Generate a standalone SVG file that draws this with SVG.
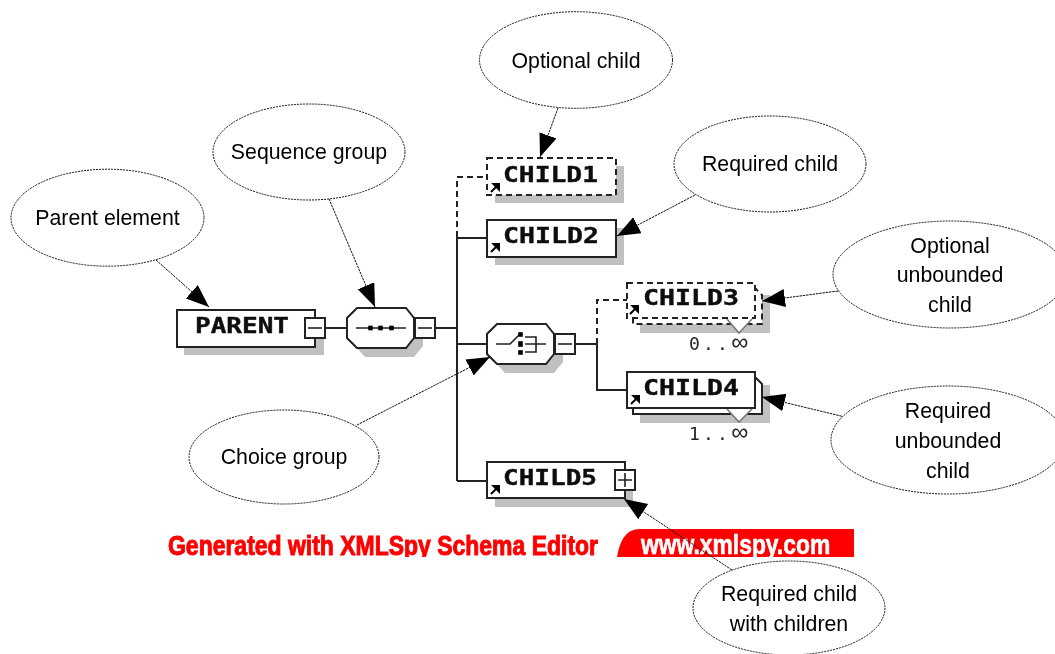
<svg xmlns="http://www.w3.org/2000/svg" width="1055" height="654" viewBox="0 0 1055 654">
<defs>
<marker id="ah" markerUnits="userSpaceOnUse" markerWidth="25" markerHeight="20" refX="23" refY="9" orient="auto"><path d="M0,0 L23,9 L0,18 Z" fill="#000"/></marker>
<path id="go" d="M1,-1 L6,-6 M9,-9 L3.500,-9 L9,-3.500 Z"/>
<clipPath id="bc"><rect x="150" y="525" width="720" height="32"/></clipPath>
<filter id="soft" x="-5%" y="-5%" width="110%" height="110%"><feGaussianBlur stdDeviation="0.4"/></filter>
</defs>
<style>
.sh{fill:#c0c0c0;stroke:none}
.b{fill:#fff;stroke:#222;stroke-width:2}
.d{fill:#fff;stroke:#222;stroke-width:2;stroke-dasharray:6 4}
.w{fill:none;stroke:#222;stroke-width:2}
.wd{fill:none;stroke:#222;stroke-width:2;stroke-dasharray:6 4}
.thin{fill:none;stroke:#222;stroke-width:1.6}
.ic{fill:#000;stroke:#000;stroke-width:1.6}
.go{fill:#000;stroke:#000;stroke-width:2}
.el{fill:#fff;stroke:#111;stroke-width:1;stroke-dasharray:2 1}
.ca{fill:none;stroke:#111;stroke-width:1;stroke-dasharray:2.500 .8;marker-end:url(#ah)}
.lb{font-family:"Liberation Sans",Arial,sans-serif;font-size:21.300px;fill:#000;text-anchor:middle}
.n{font-family:"DejaVu Sans Mono",monospace;font-weight:bold;font-size:21px;fill:#111;stroke:#111;stroke-width:.4}
.oc{font-family:"DejaVu Sans Mono",monospace;font-size:18px;letter-spacing:3.200px;fill:#222}
.inf{font-family:"Liberation Sans",Arial,sans-serif;font-size:24px;letter-spacing:0}
.tri{fill:#fff;stroke:#777;stroke-width:1.6}
.red{font-family:"Liberation Sans",Arial,sans-serif;font-weight:bold;font-size:28px}
.s{filter:url(#soft)}
</style>

<g id="connectors" class="s">
<path class="w" d="M325,328H347M435,328H457M457,237V481M457,238H487M457,344H487M457,481H487M575,344H597V390H627"/>
<path class="wd" d="M457,237V177H487M597,344V300H627"/>
</g>

<g id="parent" class="s">
<rect class="sh" x="184" y="318" width="140" height="37"/>
<rect class="b" x="177" y="310" width="138" height="37"/>
<text class="n" x="195" y="333" textLength="94" lengthAdjust="spacingAndGlyphs">PARENT</text>
<rect class="b" x="305" y="318" width="20" height="20"/><path class="thin" d="M308,328H322"/>
</g>

<g id="sequence" class="s">
<path class="sh" d="M365,316H414L423,326V346L414,357H365L355,346V326Z"/>
<path class="b" d="M357,308H406L414,318V338L406,348H357L347,338V318Z"/>
<path class="thin" d="M356,328H406"/>
<rect class="ic" x="369" y="326.500" width="3" height="3"/><rect class="ic" x="379" y="326.500" width="3" height="3"/><rect class="ic" x="390" y="326.500" width="3" height="3"/>
<rect class="b" x="415" y="318" width="20" height="20"/><path class="thin" d="M418,328H432"/>
</g>

<g id="child1" class="s">
<rect class="sh" x="495" y="166" width="129" height="37"/>
<rect class="d" x="487" y="158" width="129" height="37"/>
<text class="n" x="503" y="182" textLength="95" lengthAdjust="spacingAndGlyphs">CHILD1</text>
<use href="#go" x="490" y="193" class="go"/>
</g>

<g id="child2" class="s">
<rect class="sh" x="495" y="228" width="129" height="37"/>
<rect class="b" x="487" y="220" width="129" height="37"/>
<text class="n" x="503" y="243" textLength="96" lengthAdjust="spacingAndGlyphs">CHILD2</text>
<use href="#go" x="490" y="253" class="go"/>
</g>

<g id="choice" class="s">
<path class="sh" d="M505,332H554L563,342V362L554,373H505L495,362V342Z"/>
<path class="b" d="M497,324H546L554,334V354L546,364H497L487,354V334Z"/>
<path class="thin" d="M496,344H510L519,335M525,337H536V352H525M525,344H546"/>
<rect class="ic" x="519" y="333" width="3" height="3"/><rect class="ic" x="519" y="342" width="3" height="4"/><rect class="ic" x="519" y="351" width="3" height="3"/>
<rect class="b" x="555" y="334" width="20" height="20"/><path class="thin" d="M558,344H572"/>
</g>

<g id="child3" class="s">
<rect class="sh" x="640" y="295" width="130" height="38"/>
<path class="d" d="M633,289H756L762,295V324H633Z"/>
<path class="tri" d="M727,319L739,333L752,319"/>
<path class="d" d="M627,283H755V318H627Z"/>
<text class="n" x="643" y="305" textLength="96" lengthAdjust="spacingAndGlyphs">CHILD3</text>
<use href="#go" x="629" y="315" class="go"/>
<text class="oc" x="689" y="350">0..<tspan class="inf">∞</tspan></text>
</g>

<g id="child4" class="s">
<rect class="sh" x="640" y="385" width="130" height="38"/>
<path class="b" d="M633,378H756L762,384V414H633Z"/>
<path class="tri" d="M727,409L739,422L752,409"/>
<rect class="b" x="627" y="372" width="128" height="36"/>
<text class="n" x="643" y="395" textLength="96" lengthAdjust="spacingAndGlyphs">CHILD4</text>
<use href="#go" x="630" y="405" class="go"/>
<text class="oc" x="689" y="440">1..<tspan class="inf">∞</tspan></text>
</g>

<g id="child5" class="s">
<rect class="sh" x="495" y="470" width="138" height="37"/>
<rect class="b" x="487" y="462" width="138" height="36"/>
<text class="n" x="503" y="485" textLength="94" lengthAdjust="spacingAndGlyphs">CHILD5</text>
<use href="#go" x="490" y="495" class="go"/>
<rect class="b" x="615" y="470" width="20" height="20"/><path class="thin" d="M618,480H632M625,473V487"/>
</g>

<g id="banner" class="s">
<g clip-path="url(#bc)">
<text class="red" transform="translate(168,555) scale(.86,1)" textLength="500" lengthAdjust="spacingAndGlyphs" fill="#f00" stroke="#f00" stroke-width="1">Generated with XMLSpy Schema Editor</text>
<path d="M617,557C620,540 626,529 640,529H854V557Z" fill="#f00"/>
<text class="red" transform="translate(641,554) scale(.88,1)" textLength="215" lengthAdjust="spacingAndGlyphs" fill="#fff" stroke="#fff" stroke-width=".6">www.xmlspy.com</text>
</g>
</g>

<g id="callout-lines">
<path class="ca" d="M156,260L209,307"/>
<path class="ca" d="M329,199L375,307"/>
<path class="ca" d="M558,108L540,157"/>
<path class="ca" d="M695,195L617,236"/>
<path class="ca" d="M838,291L762,301"/>
<path class="ca" d="M845,417L762,397"/>
<path class="ca" d="M357,425L490,357"/>
<path class="ca" d="M732,570L624,499"/>
</g>

<g id="note-parent"><ellipse class="el" cx="107.500" cy="217.700" rx="96.500" ry="48.500"/><text class="lb" x="107.500" y="224.500">Parent element</text></g>
<g id="note-sequence"><ellipse class="el" cx="309" cy="152" rx="96" ry="48"/><text class="lb" x="309" y="159">Sequence group</text></g>
<g id="note-optional"><ellipse class="el" cx="576" cy="60" rx="96.500" ry="48.300"/><text class="lb" x="576" y="68">Optional child</text></g>
<g id="note-required"><ellipse class="el" cx="770" cy="164" rx="96" ry="48"/><text class="lb" x="770" y="171">Required child</text></g>
<g id="note-opt-unbounded"><ellipse class="el" cx="950" cy="274.500" rx="117" ry="53.500"/><text class="lb" x="950" y="252.700">Optional</text><text class="lb" x="950" y="282">unbounded</text><text class="lb" x="950" y="311.700">child</text></g>
<g id="note-req-unbounded"><ellipse class="el" cx="948" cy="440" rx="117" ry="54"/><text class="lb" x="948" y="417.700">Required</text><text class="lb" x="948" y="447.600">unbounded</text><text class="lb" x="948" y="477.600">child</text></g>
<g id="note-choice"><ellipse class="el" cx="284" cy="457" rx="95" ry="47"/><text class="lb" x="284" y="464">Choice group</text></g>
<g id="note-children"><ellipse class="el" cx="789" cy="608" rx="96" ry="47"/><text class="lb" x="789" y="600.700">Required child</text><text class="lb" x="789" y="630.700">with children</text></g>
</svg>
